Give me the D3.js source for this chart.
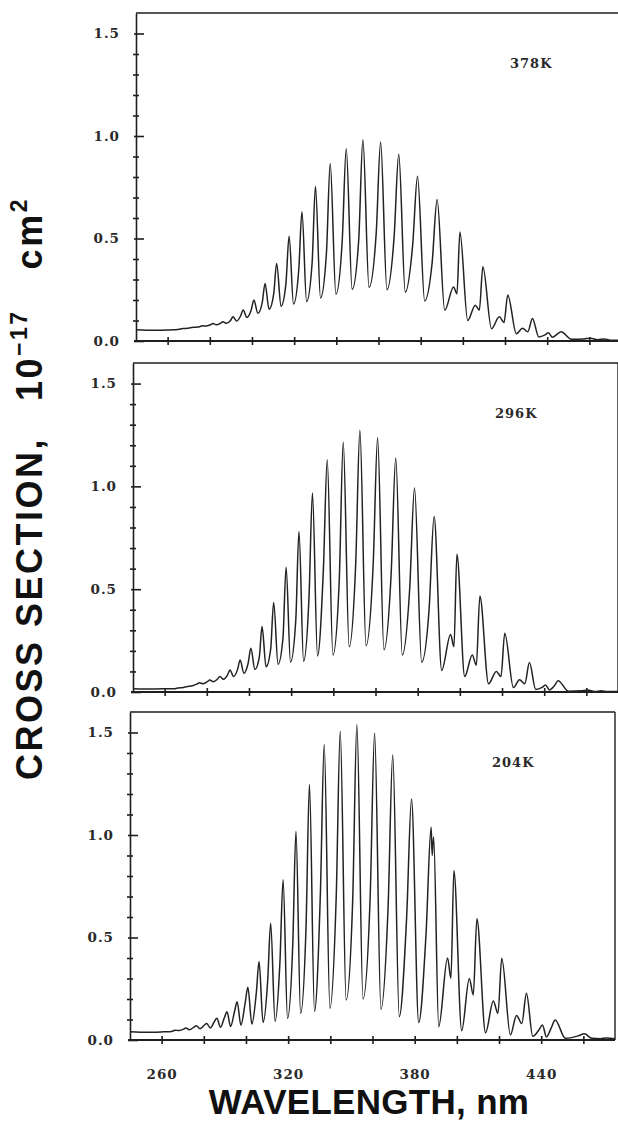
<!DOCTYPE html>
<html>
<head>
<meta charset="utf-8">
<script src="https://cdn.jsdelivr.net/npm/d3@7"></script>
<style>
  body { margin: 0; background: #fff; }
  svg { display: block; }
</style>
</head>
<body>
<svg id="chart" width="618" height="1130"></svg>
<script>
// Band positions along the progression (nm), common to all temperatures
const peakNm     = [266.5, 271.5, 276.5, 281.4, 286.2, 291.0, 295.8, 300.9, 306.2, 311.7, 317.6, 323.7, 330.1, 337.1, 344.7, 352.6, 361.0, 369.6, 378.5, 387.8, 398.6, 409.5, 421.3, 433.0, 440.6, 446.6, 460.5];
const shoulderNm = [265.6, 270.2, 275.2, 280.2, 285.0, 289.8, 294.6, 299.6, 304.9, 310.3, 316.1, 322.2, 328.5, 335.3, 342.8, 350.6, 358.9, 367.4, 376.2, 385.4, 395.6, 405.9, 417.3, 428.3, 439.0, 444.8, 457.5];
const valleyNm   = [264.8, 268.2, 273.2, 278.2, 283.1, 287.9, 292.7, 297.6, 302.8, 308.1, 313.8, 319.7, 325.9, 332.5, 339.8, 347.5, 355.5, 364.0, 372.7, 381.9, 391.4, 402.3, 413.6, 425.4, 436.0, 442.5, 451.5];

// Cross sections, 10^-17 cm^2
const peak378     = [0.060, 0.066, 0.074, 0.085, 0.094, 0.118, 0.151, 0.200, 0.281, 0.378, 0.511, 0.630, 0.755, 0.866, 0.938, 0.982, 0.971, 0.911, 0.804, 0.690, 0.532, 0.362, 0.224, 0.110, 0.040, 0.045, 0.014];
const shoulder378 = [0.057, 0.063, 0.070, 0.079, 0.086, 0.100, 0.122, 0.150, 0.190, 0.230, 0.280, 0.350, 0.378, 0.427, 0.490, 0.490, 0.524, 0.508, 0.468, 0.378, 0.264, 0.175, 0.118, 0.062, 0.030, 0.034, 0.010];
const valley378   = [0.056, 0.061, 0.067, 0.073, 0.079, 0.086, 0.098, 0.115, 0.135, 0.155, 0.170, 0.180, 0.192, 0.210, 0.228, 0.252, 0.262, 0.250, 0.238, 0.195, 0.150, 0.100, 0.060, 0.035, 0.020, 0.018, 0.008];
const edge378     = [[245, 0.055], [250, 0.053], [256, 0.052], [261, 0.054], [464, 0.006], [467, 0.010], [470, 0.004], [475, 0.004]];
const detail378   = [[397.2, 0.23], [407.8, 0.15], [419.5, 0.09], [430.8, 0.045]];

const peak296     = [0.020, 0.028, 0.045, 0.058, 0.075, 0.107, 0.156, 0.213, 0.318, 0.435, 0.607, 0.780, 0.968, 1.130, 1.214, 1.273, 1.236, 1.138, 0.992, 0.854, 0.670, 0.467, 0.286, 0.143, 0.034, 0.055, 0.010];
const shoulder296 = [0.018, 0.025, 0.038, 0.050, 0.062, 0.082, 0.110, 0.140, 0.170, 0.210, 0.260, 0.350, 0.470, 0.600, 0.540, 0.620, 0.620, 0.570, 0.500, 0.400, 0.280, 0.180, 0.100, 0.060, 0.022, 0.030, 0.006];
const valley296   = [0.016, 0.021, 0.030, 0.040, 0.050, 0.062, 0.075, 0.091, 0.110, 0.123, 0.135, 0.145, 0.150, 0.175, 0.180, 0.220, 0.225, 0.205, 0.180, 0.145, 0.105, 0.075, 0.040, 0.022, 0.012, 0.010, 0.004];
const edge296     = [[245, 0.016], [250, 0.015], [256, 0.015], [261, 0.016], [464, 0.002], [467, 0.006], [470, 0.002], [475, 0.002]];
const detail296   = [[397.2, 0.22], [407.8, 0.13], [419.5, 0.075], [430.8, 0.04]];

const peak204     = [0.048, 0.058, 0.070, 0.081, 0.106, 0.138, 0.187, 0.257, 0.383, 0.570, 0.782, 1.018, 1.246, 1.441, 1.506, 1.539, 1.498, 1.392, 1.176, 1.039, 0.827, 0.591, 0.399, 0.228, 0.073, 0.098, 0.030];
const shoulder204 = [0.045, 0.052, 0.062, 0.072, 0.090, 0.110, 0.140, 0.180, 0.230, 0.290, 0.380, 0.470, 0.560, 0.720, 0.700, 0.680, 0.700, 0.650, 0.600, 0.520, 0.400, 0.300, 0.190, 0.120, 0.050, 0.060, 0.020];
const valley204   = [0.042, 0.046, 0.050, 0.055, 0.058, 0.062, 0.066, 0.072, 0.078, 0.085, 0.092, 0.105, 0.130, 0.140, 0.155, 0.195, 0.200, 0.150, 0.114, 0.085, 0.065, 0.045, 0.035, 0.025, 0.018, 0.015, 0.008];
const edge204     = [[245, 0.040], [250, 0.038], [256, 0.038], [261, 0.040], [464, 0.008], [468, 0.006], [471, 0.010], [475, 0.006]];
const detail204   = [[388.3, 0.90], [389.0, 0.99], [397.2, 0.30], [407.8, 0.22], [419.5, 0.13], [430.8, 0.08]];

const temperatureLabels = ["378K", "296K", "204K"];
const xDomain = [245, 475];
const yDomain = [0, 1.6];
const xTicks = [260, 280, 300, 320, 340, 360, 380, 400, 420, 440, 460];
const xTickLabels = [260, 320, 380, 440];
const yMajorTicks = [0, 0.5, 1.0, 1.5];
const yMinorTicks = [0.1, 0.2, 0.3, 0.4, 0.6, 0.7, 0.8, 0.9, 1.1, 1.2, 1.3, 1.4];

// Merge the band points and the continuum edges into one spectrum, ordered by wavelength
function spectrum(peaks, shoulders, valleys, edges, details) {
  const pts = [];
  peakNm.forEach((nm, i) => {
    pts.push([valleyNm[i], valleys[i]]);
    pts.push([shoulderNm[i], shoulders[i]]);
    pts.push([nm, peaks[i]]);
  });
  return pts.concat(edges, details).sort((a, b) => a[0] - b[0]);
}

const series = [
  spectrum(peak378, shoulder378, valley378, edge378, detail378),
  spectrum(peak296, shoulder296, valley296, edge296, detail296),
  spectrum(peak204, shoulder204, valley204, edge204, detail204)
];

// Panel frames (pixels)
const panels = [
  { left: 136, top: 13,  bottom: 341,  labelDx: 374 },
  { left: 133, top: 363, bottom: 692,  labelDx: 362 },
  { left: 130, top: 712, bottom: 1040, labelDx: 362 }
];
const plotWidth = 485;
const ink = "#1e1e1e";
const tickFont = "'DejaVu Serif', serif";
const tickSize = 13.5;

const svg = d3.select("#chart");

panels.forEach((p, k) => {
  const x = d3.scaleLinear().domain(xDomain).range([p.left, p.left + plotWidth]);
  const y = d3.scaleLinear().domain(yDomain).range([p.bottom, p.top]);
  const g = svg.append("g");

  // frame: top and right borders
  g.append("line").attr("x1", p.left).attr("x2", p.left + plotWidth)
    .attr("y1", p.top).attr("y2", p.top).attr("stroke", ink).attr("stroke-width", 1.6);
  g.append("line").attr("x1", p.left + plotWidth).attr("x2", p.left + plotWidth)
    .attr("y1", p.top).attr("y2", p.bottom).attr("stroke", ink).attr("stroke-width", 1.4);

  // y axis: minor ticks crossing the axis line
  const yMinor = g.append("g").attr("transform", `translate(${p.left},0)`)
    .call(d3.axisLeft(y).tickValues(yMinorTicks).tickSize(3).tickFormat(""));
  yMinor.select(".domain").remove();
  yMinor.selectAll(".tick line").attr("x2", -3).attr("x1", 3).attr("stroke", ink).attr("stroke-width", 1.6);

  // y axis: major ticks pointing inward
  const yMajor = g.append("g").attr("transform", `translate(${p.left},0)`)
    .call(d3.axisRight(y).tickValues(yMajorTicks).tickSize(8).tickFormat(""));
  yMajor.select(".domain").remove();
  yMajor.selectAll(".tick line").attr("x1", -2).attr("stroke", ink).attr("stroke-width", 1.6);

  // y axis line and labels
  const yAx = g.append("g").attr("transform", `translate(${p.left},0)`)
    .call(d3.axisLeft(y).tickValues(yMajorTicks).tickSize(0).tickPadding(16).tickFormat(d3.format(".1f")));
  yAx.select(".domain").attr("stroke", ink).attr("stroke-width", 1.6);
  yAx.selectAll("text").attr("font-family", tickFont).attr("font-weight", "bold")
    .attr("font-size", tickSize).attr("letter-spacing", "1px").attr("fill", "#2a2a2a");

  // x axis with ticks crossing the line
  const xAx = g.append("g").attr("transform", `translate(0,${p.bottom})`)
    .call(d3.axisBottom(x).tickValues(xTicks).tickSize(4).tickFormat(""));
  xAx.select(".domain").attr("stroke", ink).attr("stroke-width", 2).attr("d", `M${p.left - 2},0H${p.left + plotWidth}`);
  xAx.selectAll(".tick line").attr("y1", -4).attr("stroke", ink).attr("stroke-width", 1.6);

  if (k === panels.length - 1) {
    const xLab = g.append("g").attr("transform", `translate(0,${p.bottom})`)
      .call(d3.axisBottom(x).tickValues(xTickLabels).tickSize(0).tickPadding(29).tickFormat(d3.format("d")));
    xLab.select(".domain").remove();
    xLab.selectAll("text").attr("font-family", tickFont).attr("font-weight", "bold")
      .attr("font-size", tickSize).attr("letter-spacing", "1px").attr("fill", "#2a2a2a");
  }

  // the spectrum
  const line = d3.line().x(d => x(d[0])).y(d => y(d[1])).curve(d3.curveMonotoneX);
  g.append("path").datum(series[k]).attr("d", line)
    .attr("fill", "none").attr("stroke", "#222").attr("stroke-width", 1.5)
    .attr("stroke-linejoin", "round");

  // temperature tag
  g.append("text").attr("x", p.left + p.labelDx).attr("y", p.top + 55)
    .attr("font-family", tickFont).attr("font-weight", "bold").attr("font-size", 13)
    .attr("letter-spacing", "1px").attr("fill", "#2a2a2a").text(temperatureLabels[k]);
});

// axis titles
const titleFont = "'Liberation Sans', Arial, sans-serif";
const yTitle = svg.append("text")
  .attr("transform", "translate(42,780) rotate(-90)")
  .attr("text-anchor", "start")
  .attr("font-family", titleFont).attr("font-weight", "bold").attr("font-size", 36)
  .attr("letter-spacing", "2.5px").attr("fill", "#111");
yTitle.append("tspan").text("CROSS SECTION,");
yTitle.append("tspan").attr("dx", 36).text("10");
yTitle.append("tspan").attr("dy", -15).attr("font-size", 23).text("\u221217");
yTitle.append("tspan").attr("dy", 15).attr("dx", 40).text("cm");
yTitle.append("tspan").attr("dy", -15).attr("font-size", 23).text("2");

svg.append("text")
  .attr("x", 369).attr("y", 1114)
  .attr("text-anchor", "middle")
  .attr("font-family", titleFont).attr("font-weight", "bold").attr("font-size", 35)
  .attr("letter-spacing", "0.3px").attr("fill", "#111")
  .text("WAVELENGTH, nm");
</script>
</body>
</html>
